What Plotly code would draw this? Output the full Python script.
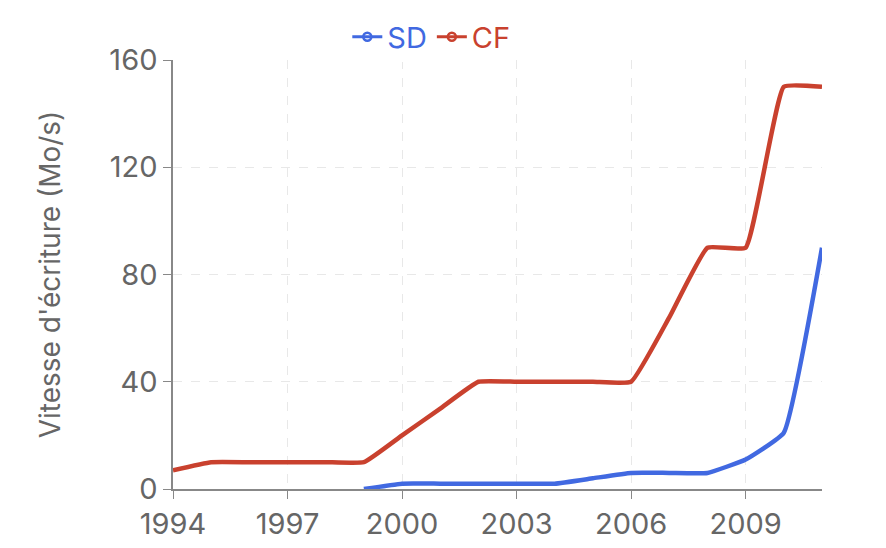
import plotly.graph_objects as go

# Write speeds (MB/s) by year
years = list(range(1994, 2012))
cf_speed = [7, 10, 10, 10, 10, 10, 20, 30, 40, 40, 40, 40, 40, 64, 90, 90, 150, 150]
sd_years = list(range(1999, 2012))
sd_speed = [0, 2, 2, 2, 2, 2, 4, 6, 6, 6, 11, 21, 90]

BLUE = "#4169e1"
RED = "#c9412e"
GRAY = "#666666"
FONT = "Inter, Liberation Sans, Arial, sans-serif"

fig = go.Figure()

fig.add_trace(go.Scatter(x=sd_years, y=sd_speed, mode="lines", showlegend=False,
                         line=dict(color=BLUE, width=4.5, shape="spline", smoothing=0.35)))
fig.add_trace(go.Scatter(x=years, y=cf_speed, mode="lines", showlegend=False,
                         line=dict(color=RED, width=4.5, shape="spline", smoothing=0.35)))

# legend-only entries (line + open circle)
for name, col in [("SD", BLUE), ("CF", RED)]:
    fig.add_trace(go.Scatter(x=[None], y=[None], mode="lines+markers",
                             name=f'<span style="color:{col}">{name}</span>',
                             line=dict(color=col, width=3),
                             marker=dict(symbol="circle-open", size=8, color=col,
                                         line=dict(width=2.5))))

fig.update_layout(
    width=878, height=540,
    margin=dict(l=165, r=64, t=52, b=59, autoexpand=False),
    plot_bgcolor="white", paper_bgcolor="white",
    font=dict(family=FONT, size=29, color=GRAY),
    legend=dict(orientation="h", x=0.398, xanchor="center", y=1.054, yanchor="middle",
                font=dict(size=29), itemwidth=30, tracegroupgap=0),
)

fig.update_xaxes(range=[1994, 2011], tickvals=[1994, 1997, 2000, 2003, 2006, 2009],
                 showline=True, linecolor="#888888", linewidth=1.5,
                 ticks="outside", ticklen=8, tickcolor="#888888",
                 showgrid=True, gridcolor="#e8e8e8", griddash="dash", zeroline=False,
                 automargin=False)
fig.update_yaxes(range=[0, 160], tickvals=[0, 40, 80, 120, 160],
                 title=dict(text="Vitesse d'écriture (Mo/s)", font=dict(size=28), standoff=41),
                 showline=True, linecolor="#888888", linewidth=1.5,
                 ticks="outside", ticklen=8, tickcolor="#888888",
                 showgrid=True, gridcolor="#e8e8e8", griddash="dash", zeroline=False,
                 automargin=False)

fig.write_html("out.html")
